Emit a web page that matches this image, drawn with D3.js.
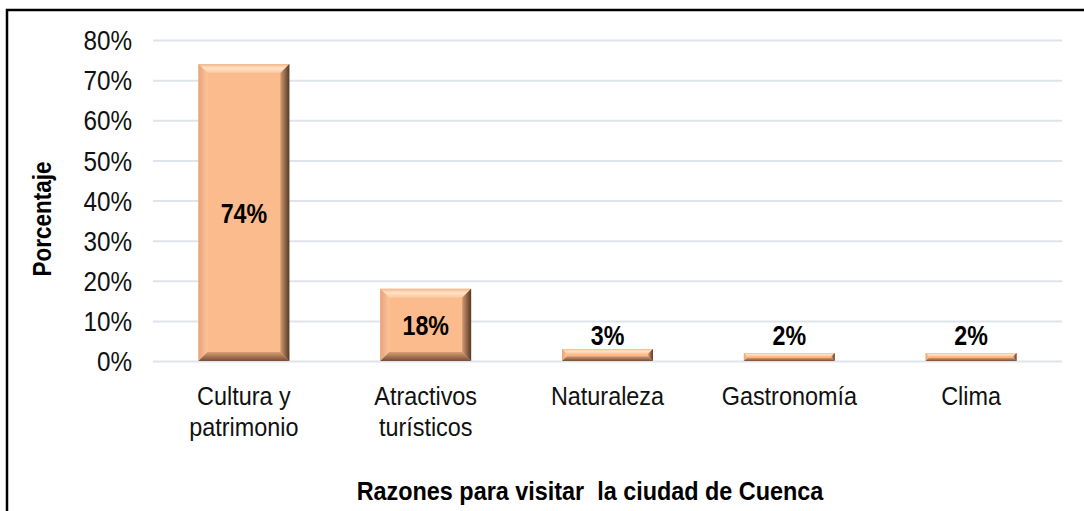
<!DOCTYPE html>
<html>
<head>
<meta charset="utf-8">
<script src="https://cdn.jsdelivr.net/npm/d3@7"></script>
<style>
  html, body { margin: 0; padding: 0; background: #fff; }
  svg { display: block; font-family: "Liberation Sans", Arial, sans-serif; }
</style>
</head>
<body>
<div id="chart"></div>
<script>
// Chart data
const categories = ["Cultura y\npatrimonio", "Atractivos\nturísticos", "Naturaleza", "Gastronomía", "Clima"];
const values = [0.74, 0.18, 0.03, 0.02, 0.02];
const yTicks = [0, 0.1, 0.2, 0.3, 0.4, 0.5, 0.6, 0.7, 0.8];
const xTitle = "Razones para visitar  la ciudad de Cuenca";
const yTitle = "Porcentaje";

const width = 1084, height = 511;
const plot = { left: 153, right: 1062, top: 40, bottom: 361 };
const sx = 0.9; // glyphs are narrower than plain Arial in the original

const svg = d3.select('#chart')
  .append('svg')
  .attr('width', width)
  .attr('height', height);

const defs = svg.append('defs');
function grad(id, x2, y2, stops) {
  const g = defs.append('linearGradient')
    .attr('id', id)
    .attr('x1', 0).attr('y1', 0)
    .attr('x2', x2).attr('y2', y2);
  stops.forEach(s => g.append('stop').attr('offset', s[0]).attr('stop-color', s[1]));
}
grad('bevTop', 0, 1, [[0, '#f2b78e'], [0.45, '#ffe3c6'], [1, '#fdc79e']]);
grad('bevLeft', 1, 0, [[0, '#e6a379'], [1, '#fcc49b']]);
grad('bevRight', 1, 0, [[0, '#d39a70'], [1, '#553827']]);
grad('bevBottom', 0, 1, [[0, '#d89d74'], [1, '#744e36']]);

// Frame
svg.append('rect')
  .attr('x', 7).attr('y', 10)
  .attr('width', width + 20).attr('height', height + 20)
  .attr('fill', 'none')
  .attr('stroke', '#000')
  .attr('stroke-width', 2.5);

// Scales
const x = d3.scaleBand()
  .domain(categories)
  .range([plot.left, plot.right])
  .paddingInner(0.5)
  .paddingOuter(0.25);

const y = d3.scaleLinear()
  .domain([0, 0.8])
  .range([plot.bottom, plot.top]);

// Y axis with gridlines
const yAxis = svg.append('g')
  .attr('transform', `translate(${plot.left},0)`)
  .call(d3.axisLeft(y)
    .tickValues(yTicks)
    .tickFormat(d3.format('.0%'))
    .tickSize(-(plot.right - plot.left))
    .tickPadding(21 / sx));

yAxis.select('.domain').remove();
yAxis.selectAll('.tick line')
  .attr('stroke', '#dfe4eb')
  .attr('stroke-width', 2);
yAxis.selectAll('.tick text')
  .attr('transform', `scale(${sx},1)`)
  .attr('dy', '0.36em')
  .attr('fill', '#111')
  .style('font-size', '27px')
  .style('font-family', '"Liberation Sans", Arial, sans-serif');

// Bars with bevel
const bars = svg.append('g')
  .selectAll('g')
  .data(categories)
  .enter()
  .append('g');

bars.each(function(c, i) {
  const g = d3.select(this);
  const x0 = x(c), w = x.bandwidth();
  const y0 = y(values[i]), y1 = y(0), h = y1 - y0;
  const b = Math.min(9, h * 0.4);
  const x1 = x0 + w;

  g.append('rect')
    .attr('x', x0).attr('y', y0)
    .attr('width', w).attr('height', h)
    .attr('fill', '#fcbb8c');

  const poly = (pts, fill) => g.append('polygon')
    .attr('points', pts.map(p => p.join(',')).join(' '))
    .attr('fill', fill);

  poly([[x0, y0], [x1, y0], [x1 - b, y0 + b], [x0 + b, y0 + b]], 'url(#bevTop)');
  poly([[x0, y0], [x0 + b, y0 + b], [x0 + b, y1 - b], [x0, y1]], 'url(#bevLeft)');
  poly([[x1, y0], [x1, y1], [x1 - b, y1 - b], [x1 - b, y0 + b]], 'url(#bevRight)');
  poly([[x0, y1], [x0 + b, y1 - b], [x1 - b, y1 - b], [x1, y1]], 'url(#bevBottom)');
});

// Value labels: centred in the bar, or above it when the bar is too short
svg.append('g')
  .selectAll('text')
  .data(categories)
  .enter()
  .append('text')
  .attr('transform', (c, i) => {
    const cy = Math.min((y(values[i]) + y(0)) / 2, y(0) - 26);
    return `translate(${x(c) + x.bandwidth() / 2},${cy}) scale(0.83,1)`;
  })
  .attr('text-anchor', 'middle')
  .attr('dy', '0.36em')
  .style('font-size', '28px')
  .style('font-weight', 'bold')
  .text((c, i) => d3.format('.0%')(values[i]));

// Category labels
const catLabels = svg.append('g')
  .selectAll('text')
  .data(categories)
  .enter()
  .append('text')
  .attr('transform', c => `translate(${x(c) + x.bandwidth() / 2},405) scale(${sx},1)`)
  .attr('text-anchor', 'middle')
  .style('font-size', '26px')
  .attr('fill', '#111');

catLabels.each(function(c) {
  const t = d3.select(this);
  c.split('\n').forEach((line, k) => {
    t.append('tspan')
      .attr('x', 0)
      .attr('y', k * 31)
      .text(line);
  });
});

// Axis titles
svg.append('text')
  .attr('transform', `translate(590,500) scale(${sx},1)`)
  .attr('text-anchor', 'middle')
  .style('font-size', '26px')
  .style('font-weight', 'bold')
  .style('white-space', 'pre')
  .text(xTitle);

svg.append('text')
  .attr('transform', `translate(51,219) rotate(-90) scale(${sx},1)`)
  .attr('text-anchor', 'middle')
  .style('font-size', '25px')
  .style('font-weight', 'bold')
  .text(yTitle);
</script>
</body>
</html>
